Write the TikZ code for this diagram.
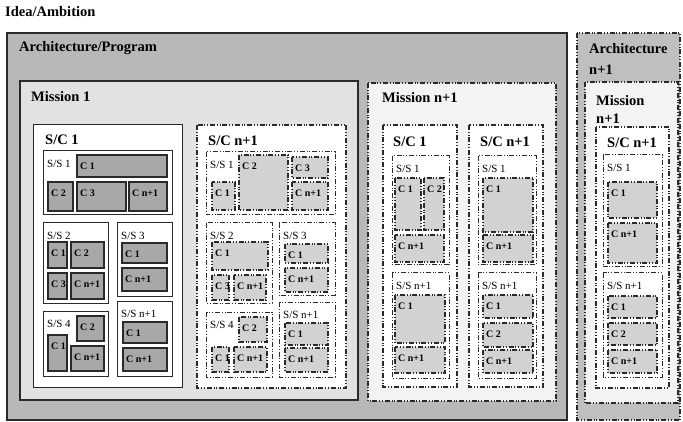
\documentclass[tikz,border=0pt]{standalone}
\usepackage{fontspec}
\setmainfont{Liberation Serif}

\definecolor{archgray}{HTML}{B8B8B8}
\definecolor{missgray}{HTML}{E2E2E2}
\definecolor{misslight}{HTML}{F3F3F3}
\definecolor{compgray}{HTML}{A8A8A8}
\definecolor{dcompgray}{HTML}{D2D2D2}
\definecolor{edge}{HTML}{2A2A2A}

\tikzset{
  ddash/.style={dash pattern=on 5pt off 1.8pt on 1pt off 1.8pt on 1pt off 1.8pt},
  archbox/.style={draw=edge,line width=1.3pt,fill=archgray},
  darchbox/.style={draw=edge,line width=1.2pt,ddash,fill=archgray!90!white},
  missbox/.style={draw=edge,line width=1.1pt,fill=missgray},
  dmissbox/.style={draw=edge,line width=1.1pt,ddash,fill=misslight},
  scbox/.style={draw=edge,line width=1pt,fill=white},
  dscbox/.style={draw=edge,line width=1.1pt,ddash,fill=white},
  ssbox/.style={draw=edge,line width=1pt,fill=white},
  dssbox/.style={draw=edge,line width=1pt,ddash,fill=white},
  comp/.style={draw=edge,line width=1.2pt,fill=compgray},
  dcomp/.style={draw=edge,line width=1.1pt,ddash,fill=dcompgray},
  title/.style={anchor=west,inner sep=0pt,font=\fontsize{14.5}{17}\selectfont\bfseries},
  sslab/.style={anchor=west,inner sep=0pt,font=\fontsize{11}{13}\selectfont},
  clab/.style={anchor=west,inner sep=0pt,font=\fontsize{10}{12}\selectfont\bfseries}
}

\begin{document}
\begin{tikzpicture}[x=1pt,y=-1pt]
\useasboundingbox[fill=white] (0,0) rectangle (683,422);
% idea, architectures, missions
\node[title] (idea) at (5,12) {Idea/Ambition};
\draw[archbox] (7,33) rectangle (567,420);
\node[title] (arch) at (19,48) {Architecture/Program};
\draw[missbox] (20,81) rectangle (358,400);
\node[title] (mis1) at (31,97) {Mission 1};
\draw[dmissbox] (368,83) rectangle (556,401);
\node[title] (misn) at (382,98) {Mission n+1};
\draw[darchbox] (577,33) rectangle (680,420);
\node[title,align=left,font=\fontsize{14.5}{21}\selectfont\bfseries] (archn) at (589,58.5) {Architecture\\n+1};
\draw[dmissbox] (585,82) rectangle (678,403);
\node[title,align=left,font=\fontsize{14.5}{18}\selectfont\bfseries] (misnb) at (596,109) {Mission\\n+1};
% spacecraft
\draw[scbox] (33,125) rectangle (182,387);
\node[title] (sc1) at (45,140) {S/C 1};
\draw[dscbox] (197,125) rectangle (346,388);
\node[title] (scn) at (208,141) {S/C n+1};
\draw[dscbox] (383,125) rectangle (457,387);
\node[title] (sc1b) at (393,142) {S/C 1};
\draw[dscbox] (469,125) rectangle (543,387);
\node[title] (scnb) at (480,142) {S/C n+1};
\draw[dscbox] (596,127) rectangle (669,388);
\node[title] (scnc) at (607,143) {S/C n+1};
% subsystems
\foreach \xa/\ya/\xb/\yb/\t [count=\i] in {43/151/172/215/1, 43/223/108/303/2,
    117/223/172/296/3, 43/311/108/376/4, 117/301/172/376/n+1}
{
  \draw[ssbox] (\xa,\ya) rectangle (\xb,\yb);
  \node[sslab] (ssa\i) at (\xa+4,\ya+13) {S/S \t};
}
\foreach \xa/\ya/\xb/\yb/\t [count=\i] in {206/152/335/215/1, 206/223/272/303/2,
    279/223/335/295/3, 206/312/272/377/4, 279/302/335/377/n+1,
    392/156/449/265/1, 392/273/449/378/n+1, 478/156/536/265/1, 478/273/536/378/n+1,
    603/155/662/267/1, 603/273/662/377/n+1}
{
  \draw[dssbox] (\xa,\ya) rectangle (\xb,\yb);
  \node[sslab] (ssb\i) at (\xa+4,\ya+13) {S/S \t};
}
% components
\foreach \xa/\ya/\xb/\yb/\t [count=\i] in {77/155/167/177/1, 48/182/73/211/2,
    77/182/126/211/3, 129/182/167/211/n+1, 48/242/67/268/1, 71/242/104/268/2,
    48/273/67/299/3, 71/273/104/299/n+1, 122/243/167/263/1, 122/268/167/291/n+1,
    77/316/104/341/2, 48/335/67/371/1, 71/346/104/371/n+1,
    123/322/167/343/1, 123/348/167/371/n+1}
{
  \draw[comp] (\xa,\ya) rectangle (\xb,\yb);
  \node[clab] (ca\i) at (\xa+3,\ya+11) {C \t};
}
\foreach \xa/\ya/\xb/\yb/\t [count=\i] in {212/182/235/210/1, 239/155/288/210/2,
    292/157/328/178/3, 292/182/328/210/n+1, 212/242/268/270/1, 212/275/229/300/3,
    234/275/266/300/n+1, 285/244/328/263/1, 285/268/328/292/n+1,
    239/317/267/342/2, 212/347/229/372/1, 234/347/267/372/n+1,
    285/323/328/345/1, 285/348/328/372/n+1,
    395/178/421/230/1, 424/178/444/230/2, 395/235/444/262/n+1,
    395/295/445/343/1, 395/347/445/373/n+1,
    483/178/533/232/1, 483/235/533/262/n+1, 483/295/533/318/1,
    483/323/533/347/2, 483/350/533/373/n+1,
    608/182/657/218/1, 608/223/657/263/n+1, 608/296/657/318/1,
    608/323/657/345/2, 608/350/657/373/n+1}
{
  \draw[dcomp] (\xa,\ya) rectangle (\xb,\yb);
  \node[clab] (cb\i) at (\xa+3,\ya+11) {C \t};
}
\end{tikzpicture}
\end{document}
